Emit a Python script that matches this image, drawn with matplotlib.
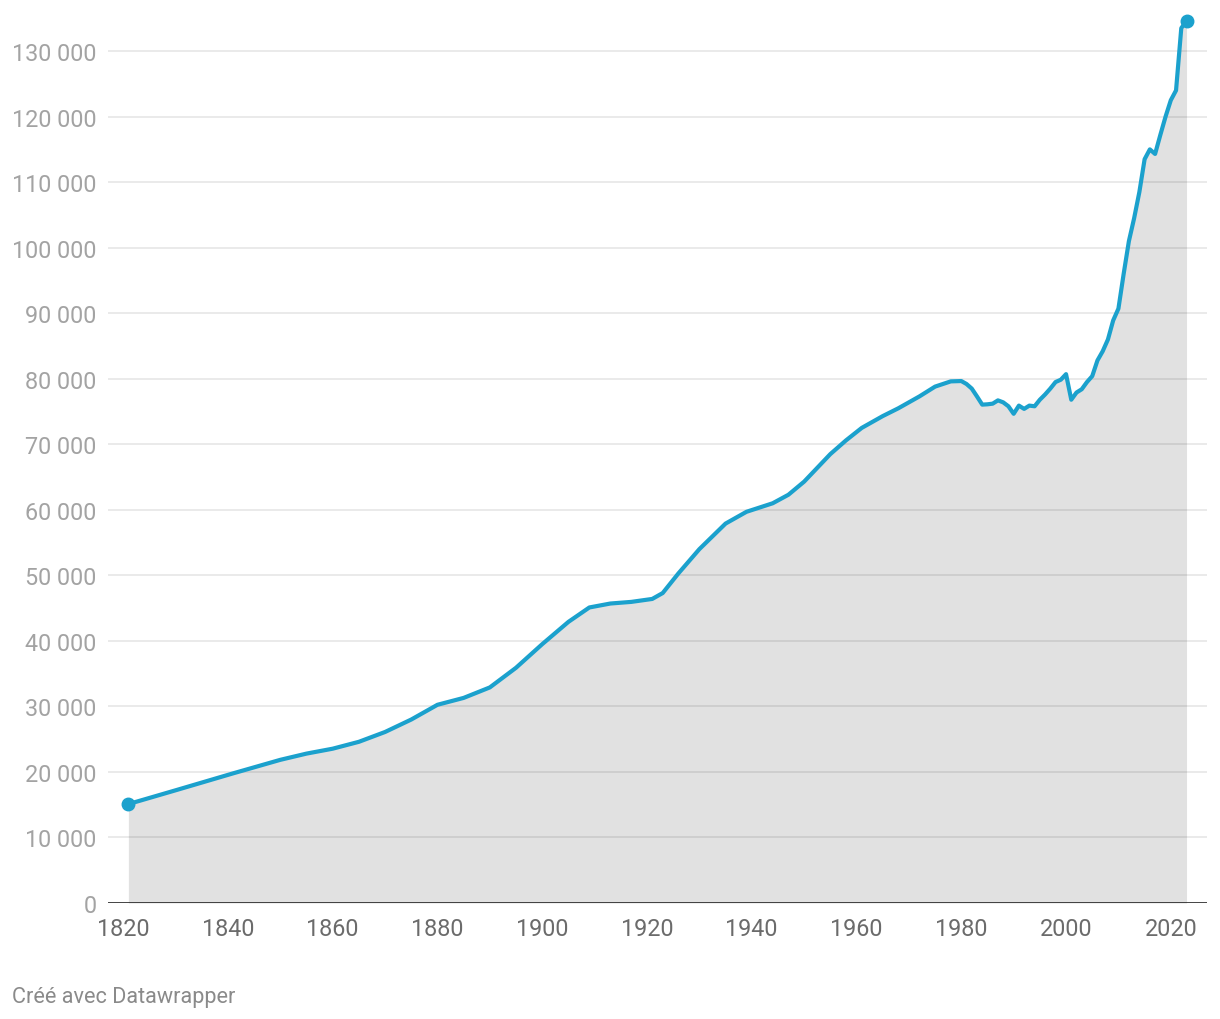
import matplotlib
matplotlib.use("Agg")
import matplotlib.pyplot as plt

# valeurs
annees = [1821, 1830, 1841, 1850, 1855, 1860, 1865, 1870, 1875, 1880,
          1885, 1890, 1895, 1900, 1905, 1909, 1913, 1917, 1921, 1923,
          1926, 1930, 1935, 1939, 1944, 1947, 1950, 1955, 1958, 1961,
          1965, 1968, 1972, 1975, 1978, 1980, 1981, 1982, 1983, 1984,
          1985, 1986, 1987, 1988, 1989, 1990, 1991, 1992, 1993, 1994,
          1995, 1996, 1997, 1998, 1999, 2000, 2001, 2002, 2003, 2004,
          2005, 2006, 2007, 2008, 2009, 2010, 2011, 2012, 2013, 2014,
          2015, 2016, 2017, 2018, 2019, 2020, 2021, 2022, 2023]
valeurs = [15100, 17200, 19790, 21850, 22800, 23550, 24600, 26100, 28000, 30250,
           31300, 32900, 35900, 39500, 42900, 45100, 45700, 45950, 46400, 47300,
           50300, 54000, 57900, 59700, 61000, 62300, 64300, 68500, 70600, 72500,
           74300, 75500, 77300, 78800, 79600, 79650, 79200, 78500, 77300, 76050,
           76100, 76200, 76700, 76400, 75800, 74650, 75900, 75400, 75900, 75800,
           76800, 77600, 78500, 79500, 79850, 80700, 76800, 77900, 78400, 79500,
           80400, 82800, 84200, 86000, 88900, 90700, 96000, 101000, 104500, 108500,
           113500, 115000, 114300, 117200, 120000, 122500, 124000, 133500, 134600]

yticks = list(range(0, 130001, 10000))
xticks = [1820, 1840, 1860, 1880, 1900, 1920, 1940, 1960, 1980, 2000, 2020]

bleu = "#1ba1cd"

plt.rcParams["font.family"] = ["Roboto", "DejaVu Sans"]

fig = plt.figure(figsize=(12.2, 10.2), dpi=100)
ax = fig.add_axes([0.0885, 0.1137, 0.9008, 0.8738])

ax.fill_between(annees, valeurs, 0, color="#e1e1e1", lw=0, zorder=1)
for v in yticks[1:]:
    ax.axhline(v, color="black", alpha=0.09, lw=1.3, zorder=2)
ax.axhline(0, color="#222222", lw=1.9, zorder=4)
ax.plot(annees, valeurs, color=bleu, lw=3.0, zorder=5,
        solid_joinstyle="round", solid_capstyle="round")
ax.plot([annees[0], annees[-1]], [valeurs[0], valeurs[-1]], "o",
        color=bleu, ms=9, zorder=6)

ax.set_xlim(1817.1, 2026.9)
ax.set_ylim(0, 136000)
ax.set_yticks(yticks)
ax.set_yticklabels([f"{v:,}".replace(",", " ") for v in yticks])
ax.set_xticks(xticks)
ax.tick_params(axis="y", length=0, pad=8, labelsize=16.8, labelcolor="#a3a3a3")
ax.tick_params(axis="x", length=0, pad=10, labelsize=16.8, labelcolor="#6b6b6b")
for s in ax.spines.values():
    s.set_visible(False)

fig.text(0.0098, 0.0225, "Créé avec Datawrapper", fontsize=15.6,
         color="#8a8a8a", va="center", ha="left")

fig.savefig("out.png", dpi=100, facecolor="white")
